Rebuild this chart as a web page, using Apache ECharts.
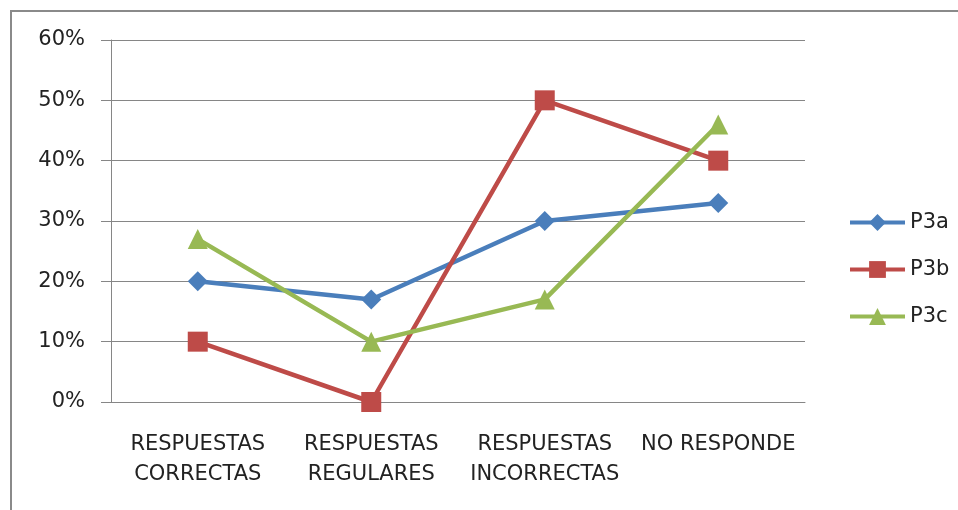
<!DOCTYPE html>
<html lang="es">
<head>
    <meta charset="UTF-8">
    <title>P3</title>
    <script type="text/javascript" src="https://cdn.jsdelivr.net/npm/echarts@6/dist/echarts.min.js"></script>
    <style>
        body { margin: 0; background: #fff; }
        #frame { position: absolute; left: 10px; top: 10px; width: 960px; height: 520px; border: 2px solid #8a8a8a; box-sizing: border-box; }
        #main { position: absolute; left: 0; top: 0; width: 958px; height: 510px; }
    </style>
</head>
<body>
    <div id="frame"></div>
    <div id="main"></div>
    <script type="text/javascript">
        var categories = ['RESPUESTAS\nCORRECTAS', 'RESPUESTAS\nREGULARES', 'RESPUESTAS\nINCORRECTAS', 'NO RESPONDE'];
        var p3a = [0.20, 0.17, 0.30, 0.33];
        var p3b = [0.10, 0.00, 0.50, 0.40];
        var p3c = [0.27, 0.10, 0.17, 0.46];

        var myChart = echarts.init(document.getElementById('main'));
        var font = 'DejaVu Sans';
        var gray = '#868686';

        function line(name, data, color, symbol, size) {
            return {
                name: name,
                type: 'line',
                data: data,
                symbol: symbol,
                symbolSize: size,
                showSymbol: true,
                lineStyle: { color: color, width: 4.5 },
                itemStyle: { color: color },
                animation: false
            };
        }

        var option = {
            backgroundColor: 'transparent',
            grid: { left: 111, right: 153, top: 40, bottom: 108 },
            legend: {
                orient: 'vertical',
                left: 843,
                top: 207,
                itemWidth: 55,
                itemHeight: 21,
                itemGap: 26,
                lineStyle: { width: 4 },
                textStyle: { fontFamily: font, fontSize: 21, color: '#222' },
                data: ['P3a', 'P3b', 'P3c']
            },
            xAxis: {
                type: 'category',
                data: categories,
                axisLine: { lineStyle: { color: gray, width: 1 } },
                axisTick: { length: 10, lineStyle: { color: gray } },
                axisLabel: { fontFamily: font, fontSize: 21, color: '#222', margin: 28, lineHeight: 30, interval: 0 }
            },
            yAxis: {
                type: 'value',
                min: 0,
                max: 0.6,
                interval: 0.1,
                axisLine: { show: true, lineStyle: { color: gray, width: 1 } },
                axisTick: { show: true, length: 10, lineStyle: { color: gray } },
                splitLine: { lineStyle: { color: gray, width: 1 } },
                axisLabel: {
                    fontFamily: font, fontSize: 21, color: '#222', margin: 26,
                    formatter: function (v) { return Math.round(v * 100) + '%'; }
                }
            },
            series: [
                line('P3a', p3a, '#4A7EBB', 'diamond', 20),
                line('P3b', p3b, '#BE4B48', 'rect', 20),
                line('P3c', p3c, '#98B954', 'triangle', 20)
            ]
        };

        myChart.setOption(option);
    </script>
</body>
</html>
